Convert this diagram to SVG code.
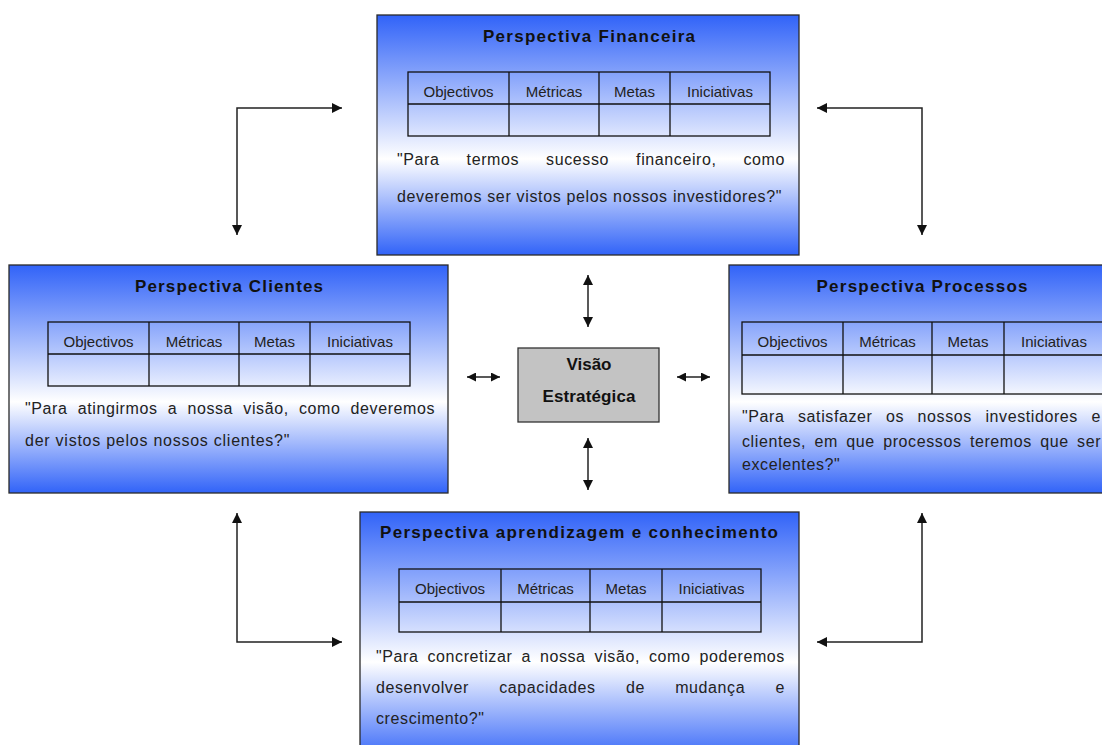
<svg xmlns="http://www.w3.org/2000/svg" width="1102" height="745" viewBox="0 0 1102 745">
<defs>
<linearGradient id="bg" x1="0" y1="0" x2="0" y2="1">
<stop offset="0" stop-color="#3163f8"/>
<stop offset="0.6" stop-color="#ffffff"/>
<stop offset="1" stop-color="#3163f8"/>
</linearGradient>
<marker id="ah" viewBox="0 0 10 10" refX="10" refY="5" markerWidth="10" markerHeight="10" markerUnits="userSpaceOnUse" orient="auto-start-reverse">
<path d="M0,0 L10,5 L0,10 z" fill="#111"/>
</marker>
<marker id="ahs" viewBox="0 0 10 10" refX="10" refY="5" markerWidth="9" markerHeight="9" markerUnits="userSpaceOnUse" orient="auto-start-reverse">
<path d="M0,0 L10,5 L0,10 z" fill="#111"/>
</marker>
</defs>
<style>
.box{fill:url(#bg);stroke:#2a2a2a;stroke-width:1.3}
.tbl{fill:none;stroke:#111;stroke-width:1.3}
.title{font-family:"Liberation Sans",Arial,sans-serif;font-weight:bold;font-size:17px;fill:#111;text-anchor:middle}
.th{font-family:"Liberation Sans",Arial,sans-serif;font-size:15px;fill:#222;text-anchor:middle}
.body{font-family:"Liberation Sans",Arial,sans-serif;font-size:16px;letter-spacing:0.6px;fill:#222}
.conn{fill:none;stroke:#222;stroke-width:1.5}
.center{fill:#c3c3c3;stroke:#333;stroke-width:1.3}
</style>
<rect width="1102" height="745" fill="#ffffff"/>

<g id="financeira">
<rect class="box" x="377" y="15" width="422" height="240"/>
<text class="title" x="589" y="42" textLength="212" lengthAdjust="spacing">Perspectiva Financeira</text>
<rect class="tbl" x="408" y="72" width="362" height="64"/>
<path class="tbl" d="M408,104 H770 M509,72 V136 M599,72 V136 M670,72 V136"/>
<text class="th" x="458.5" y="97">Objectivos</text>
<text class="th" x="554" y="97">Métricas</text>
<text class="th" x="634.5" y="97">Metas</text>
<text class="th" x="720" y="97">Iniciativas</text>
<text class="body" y="165"><tspan x="397">"Para</tspan><tspan x="466.6">termos</tspan><tspan x="546.1">sucesso</tspan><tspan x="636.1">financeiro,</tspan><tspan x="743.5">como</tspan></text>
<text class="body" x="397" y="202" textLength="385" lengthAdjust="spacing">deveremos ser vistos pelos nossos investidores?"</text>
</g>

<g id="clientes">
<rect class="box" x="9" y="265" width="439" height="228"/>
<text class="title" x="229" y="292" textLength="188" lengthAdjust="spacing">Perspectiva Clientes</text>
<rect class="tbl" x="48" y="322" width="362" height="64"/>
<path class="tbl" d="M48,354 H410 M149,322 V386 M239,322 V386 M310,322 V386"/>
<text class="th" x="98.5" y="347">Objectivos</text>
<text class="th" x="194" y="347">Métricas</text>
<text class="th" x="274.5" y="347">Metas</text>
<text class="th" x="360" y="347">Iniciativas</text>
<text class="body" y="414"><tspan x="25">"Para</tspan><tspan x="77.7">atingirmos</tspan><tspan x="167.7">a</tspan><tspan x="187.4">nossa</tspan><tspan x="243.3">visão,</tspan><tspan x="298.9">como</tspan><tspan x="350.6">deveremos</tspan></text>
<text class="body" x="25" y="446" textLength="265" lengthAdjust="spacing">der vistos pelos nossos clientes?"</text>
</g>

<g id="processos">
<rect class="box" x="729" y="265" width="390" height="228"/>
<text class="title" x="922" y="292" textLength="211" lengthAdjust="spacing">Perspectiva Processos</text>
<rect class="tbl" x="742" y="322" width="362" height="72"/>
<path class="tbl" d="M742,355 H1104 M843,322 V394 M932,322 V394 M1004,322 V394"/>
<text class="th" x="792.5" y="347">Objectivos</text>
<text class="th" x="887.5" y="347">Métricas</text>
<text class="th" x="968" y="347">Metas</text>
<text class="th" x="1054" y="347">Iniciativas</text>
<text class="body" y="422"><tspan x="742">"Para</tspan><tspan x="798">satisfazer</tspan><tspan x="886">os</tspan><tspan x="917.6">nossos</tspan><tspan x="985.4">investidores</tspan><tspan x="1091.5">e</tspan></text>
<text class="body" y="447"><tspan x="742">clientes,</tspan><tspan x="814.5">em</tspan><tspan x="846.3">que</tspan><tspan x="883.2">processos</tspan><tspan x="969.9">teremos</tspan><tspan x="1040.2">que</tspan><tspan x="1077.1">ser</tspan></text>
<text class="body" x="742" y="470">excelentes?"</text>
</g>

<g id="aprendizagem">
<rect class="box" x="360" y="512" width="439" height="250"/>
<text class="title" x="579" y="538" textLength="398" lengthAdjust="spacing">Perspectiva aprendizagem e conhecimento</text>
<rect class="tbl" x="399" y="569" width="362" height="63"/>
<path class="tbl" d="M399,602 H761 M501,569 V632 M590,569 V632 M662,569 V632"/>
<text class="th" x="450" y="594">Objectivos</text>
<text class="th" x="545.5" y="594">Métricas</text>
<text class="th" x="626" y="594">Metas</text>
<text class="th" x="711.5" y="594">Iniciativas</text>
<text class="body" y="662"><tspan x="376">"Para</tspan><tspan x="427.5">concretizar</tspan><tspan x="521.4">a</tspan><tspan x="539.9">nossa</tspan><tspan x="594.6">visão,</tspan><tspan x="649">como</tspan><tspan x="699.5">poderemos</tspan></text>
<text class="body" y="693"><tspan x="376">desenvolver</tspan><tspan x="499.2">capacidades</tspan><tspan x="625.9">de</tspan><tspan x="675.2">mudança</tspan><tspan x="775.5">e</tspan></text>
<text class="body" x="376" y="724">crescimento?"</text>
</g>

<g id="visao">
<rect class="center" x="518" y="348" width="141" height="74"/>
<text class="title" x="589" y="370" textLength="45" lengthAdjust="spacing">Visão</text>
<text class="title" x="589" y="402" textLength="93" lengthAdjust="spacing">Estratégica</text>
</g>

<g id="connectors">
<path class="conn" d="M342,108 H237 V235" marker-start="url(#ah)" marker-end="url(#ah)"/>
<path class="conn" d="M817,108 H922 V235" marker-start="url(#ah)" marker-end="url(#ah)"/>
<path class="conn" d="M237,513 V642 H342" marker-start="url(#ah)" marker-end="url(#ah)"/>
<path class="conn" d="M922,513 V642 H817" marker-start="url(#ah)" marker-end="url(#ah)"/>
<path class="conn" d="M588,275 V327" marker-start="url(#ah)" marker-end="url(#ah)"/>
<path class="conn" d="M588,438 V490" marker-start="url(#ah)" marker-end="url(#ah)"/>
<path class="conn" d="M467,377 H500" marker-start="url(#ahs)" marker-end="url(#ahs)"/>
<path class="conn" d="M677,377 H710" marker-start="url(#ahs)" marker-end="url(#ahs)"/>
</g>
</svg>
